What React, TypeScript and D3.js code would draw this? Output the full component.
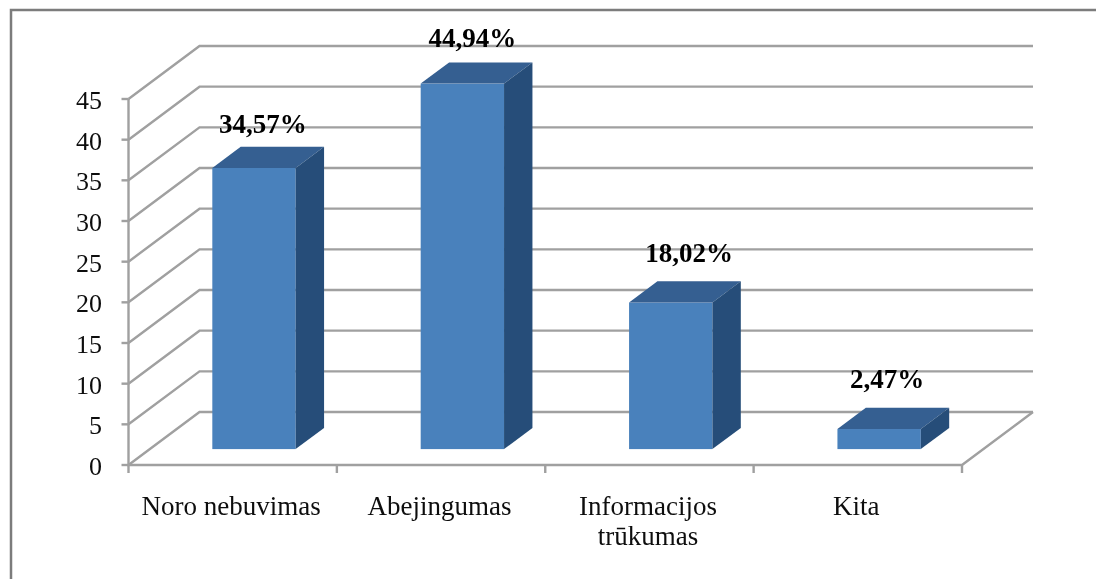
import React from "react";
import * as d3 from "d3";

const categories = ["Noro nebuvimas", "Abejingumas", "Informacijos|trūkumas", "Kita"];
const values = [34.57, 44.94, 18.02, 2.47];
const valueLabels = ["34,57%", "44,94%", "18,02%", "2,47%"];
const ticks = [0, 5, 10, 15, 20, 25, 30, 35, 40, 45];

const W = 1096, H = 579;
const x0 = 128.5, x1 = 962, y0 = 465, y45 = 99;
const dx = 71, dy = -53;
// hand-placed data labels in the original: offset from the front top of each bar's centre
const labelShift: [number, number][] = [[9, -35], [10, -37], [18.5, -41], [8, -41.5]];

export default function App() {
  const x = d3.scaleBand<number>().domain(d3.range(categories.length)).range([x0, x1]);
  const y = d3.scaleLinear().domain([0, 45]).range([y0, y45]);
  const grid = "#a0a0a0";
  const barW = x.bandwidth() * 0.4;
  const bdx = dx * 0.4, bdy = dy * 0.4;
  const ox = dx * 0.3, oy = dy * 0.3;
  return (
    <svg width={W} height={H} style={{ position: "absolute", left: 0, top: 0, background: "#fff" }}
      fontFamily="'Liberation Serif', serif">
      <defs>
        <filter id="soft" filterUnits="userSpaceOnUse" x="0" y="0" width={W} height={H}>
          <feGaussianBlur stdDeviation="0.65" />
        </filter>
      </defs>
      <g filter="url(#soft)">
        <path d={`M11,${H + 5} V10 H${W + 5}`} fill="none" stroke="#7c7c7c" strokeWidth={2.5} />
        {ticks.map(t => (
          <g key={t} fill="none" stroke={grid} strokeWidth={2.4}>
            <path d={`M${x0},${y(t)} L${x0 + dx},${y(t) + dy} H${x1 + dx}`} />
            <path d={`M${x0 - 7},${y(t)} H${x0}`} />
          </g>
        ))}
        <path d={`M${x0},${y(45)} V${y(0)} H${x1} L${x1 + dx},${y(0) + dy}`} fill="none" stroke={grid} strokeWidth={2.4} />
        {d3.range(categories.length + 1).map(i => (
          <path key={i} d={`M${x0 + i * x.bandwidth()},${y0} v8`} stroke={grid} strokeWidth={2.4} />
        ))}
        {values.map((v, i) => {
          const left = (x(i) as number) + (x.bandwidth() - barW) / 2 + ox;
          const right = left + barW;
          const base = y0 + oy;
          const top = y(v) + oy;
          return (
            <g key={i}>
              <rect x={left} y={top} width={barW} height={base - top} fill="#4a81bc" />
              <path d={`M${left},${top} l${bdx},${bdy} h${barW} l${-bdx},${-bdy} Z`} fill="#345e91" />
              <path d={`M${right},${top} l${bdx},${bdy} V${base + bdy} L${right},${base} Z`} fill="#274e79" />
            </g>
          );
        })}
        {ticks.map(t => (
          <text key={t} x={102} y={y(t) + 10} textAnchor="end" fontSize={26} fill="#111">{t}</text>
        ))}
        {categories.map((c, i) => {
          const cx = (x(i) as number) + x.bandwidth() / 2 - 1.5;
          return c.split("|").map((s, j) => (
            <text key={j} x={cx} y={515 + j * 30} textAnchor="middle" fontSize={27} fill="#111">{s}</text>
          ));
        })}
        {values.map((v, i) => {
          const cx = (x(i) as number) + x.bandwidth() / 2 + ox + labelShift[i][0];
          return (
            <text key={i} x={cx} y={y(v) + oy + labelShift[i][1]} textAnchor="middle" fontSize={27} fontWeight="bold" fill="#000">{valueLabels[i]}</text>
          );
        })}
      </g>
    </svg>
  );
}
